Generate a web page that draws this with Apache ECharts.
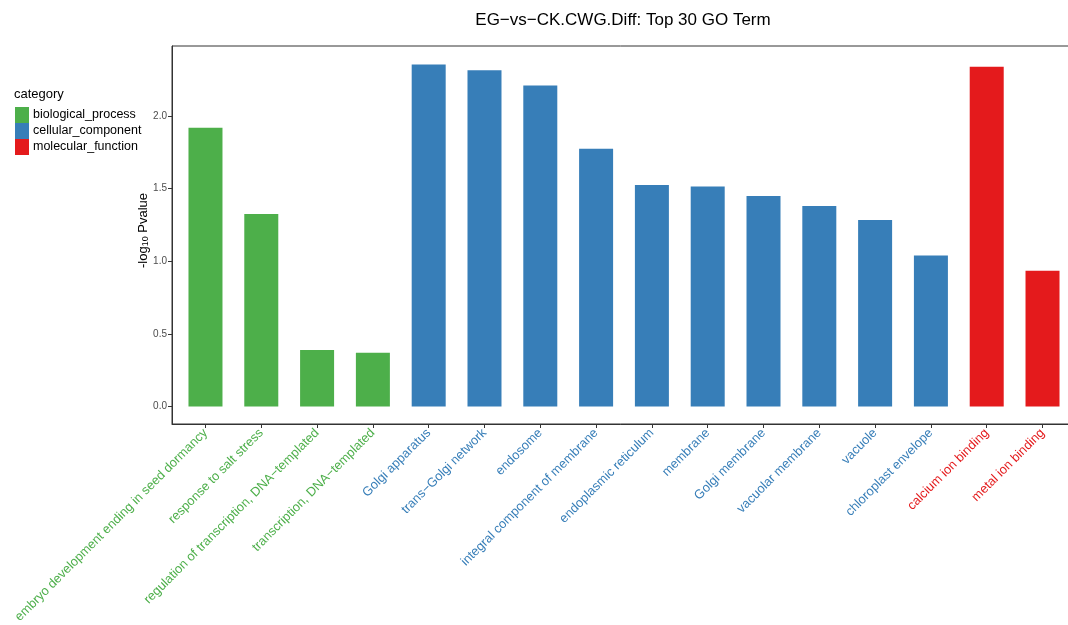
<!DOCTYPE html>
<html>
<head>
<meta charset="utf-8">
<script src="https://cdn.jsdelivr.net/npm/echarts@6/dist/echarts.min.js"></script>
<style>
  html, body { margin: 0; padding: 0; background: #fff; }
  #chart { width: 1068px; height: 625px; }
</style>
</head>
<body>
<div id="chart"></div>
<script>
// GO terms, in plotting order
const terms = [
  'embryo development ending in seed dormancy',
  'response to salt stress',
  'regulation of transcription, DNA\u2212templated',
  'transcription, DNA\u2212templated',
  'Golgi apparatus',
  'trans\u2212Golgi network',
  'endosome',
  'integral component of membrane',
  'endoplasmic reticulum',
  'membrane',
  'Golgi membrane',
  'vacuolar membrane',
  'vacuole',
  'chloroplast envelope',
  'calcium ion binding',
  'metal ion binding'
];
// -log10 P value of each term
const pvalueLog = [1.92, 1.325, 0.39, 0.37, 2.355, 2.315, 2.21, 1.775, 1.525, 1.515, 1.45, 1.38, 1.285, 1.04, 2.34, 0.935];
// GO category of each term (index into categoryNames)
const termCategory = [0, 0, 0, 0, 1, 1, 1, 1, 1, 1, 1, 1, 1, 1, 2, 2];
const categoryNames = ['biological_process', 'cellular_component', 'molecular_function'];
const categoryColors = ['#4DAF4A', '#377EB8', '#E41A1C'];
const yTicks = [0, 0.5, 1.0, 1.5, 2.0];

const termIndex = terms.map((_, i) => i);

const series = categoryNames.map((name, c) => ({
  name: name,
  type: 'bar',
  barWidth: 34,
  barGap: '-100%',
  itemStyle: { color: categoryColors[c] },
  data: termIndex.filter(i => termCategory[i] === c).map(i => [i, pvalueLog[i]])
}));

const chart = echarts.init(document.getElementById('chart'));
chart.setOption({
  animation: false,
  textStyle: { fontFamily: 'Liberation Sans, Arial, sans-serif' },
  title: [
    {
      text: 'EG\u2212vs\u2212CK.CWG.Diff: Top 30 GO Term',
      left: 623, top: 12, textAlign: 'center', padding: 0,
      textStyle: { fontSize: 17, fontWeight: 'normal', color: '#000' }
    },
    {
      text: 'category',
      left: 14, top: 88, padding: 0,
      textStyle: { fontSize: 13, fontWeight: 'normal', color: '#000' }
    }
  ],
  legend: {
    orient: 'vertical',
    left: 15, top: 107, padding: 0,
    icon: 'rect',
    itemWidth: 14, itemHeight: 16, itemGap: 0,
    textStyle: { fontSize: 12.5, color: '#000', padding: [0, 0, 0, -1] },
    data: categoryNames
  },
  grid: {
    left: 172, top: 46, width: 904, bottom: 201,
    outerBoundsMode: 'none',
    containLabel: false,
    show: true, borderColor: '#333', borderWidth: 1, backgroundColor: '#fff'
  },
  xAxis: {
    type: 'value',
    min: -0.6, max: 15.6,
    splitLine: { show: false },
    axisLine: { show: true, onZero: false, lineStyle: { color: '#333' } },
    axisTick: { show: true, length: 4, lineStyle: { color: '#333' }, customValues: termIndex },
    axisLabel: {
      customValues: termIndex,
      rotate: 45,
      margin: 7,
      fontSize: 12.8,
      formatter: v => terms[Math.round(v)],
      color: v => categoryColors[termCategory[Math.round(Number(v))]]
    }
  },
  yAxis: {
    type: 'value',
    min: -0.12, max: 2.482,
    name: '-log{sub|10} Pvalue',
    nameLocation: 'middle',
    nameGap: 22,
    nameMoveOverlap: false,
    nameTextStyle: {
      fontSize: 13, color: '#000',
      padding: [0, 0, 0, 9],
      rich: { sub: { fontSize: 9, padding: [5, 0, 0, 0] } }
    },
    splitLine: { show: false },
    axisLine: { show: true, onZero: false, lineStyle: { color: '#333' } },
    axisTick: { show: true, length: 4, lineStyle: { color: '#333' }, customValues: yTicks },
    axisLabel: {
      customValues: yTicks,
      fontSize: 10, color: '#4d4d4d', margin: 5,
      formatter: v => Number(v).toFixed(1)
    }
  },
  series: series
});
</script>
</body>
</html>
